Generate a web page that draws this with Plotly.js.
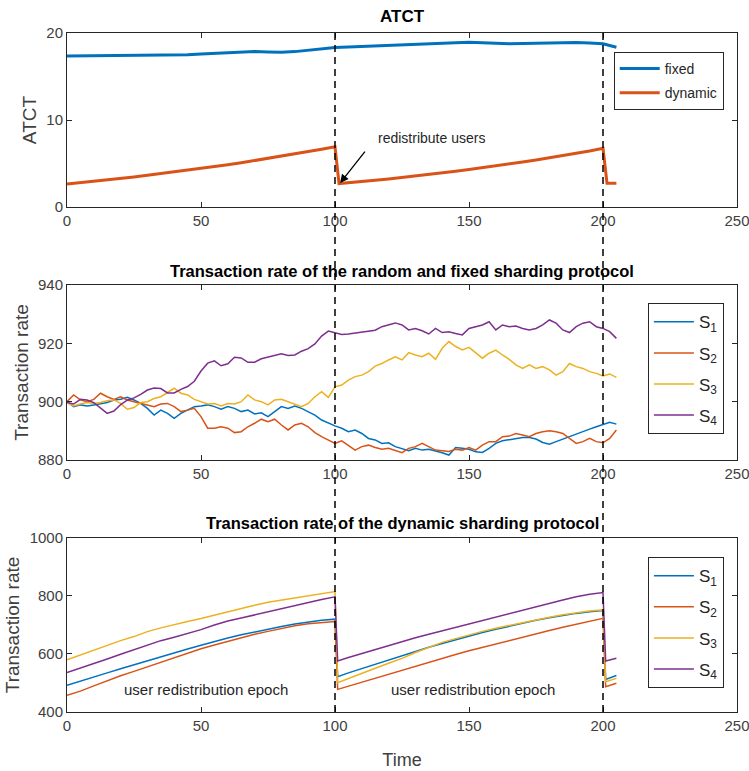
<!DOCTYPE html>
<html>
<head>
<meta charset="utf-8">
<script src="https://cdn.plot.ly/plotly-3.0.1.min.js"></script>
<style>html,body{margin:0;padding:0;background:#fff;}#chart{width:749px;height:771px;}</style>
</head>
<body>
<div id="chart"></div>
<script>
// ---------- Top panel: ATCT ----------
const xFixed = [0,5,10,15,20,25,30,35,40,45,50,55,60,65,70,75,80,85,90,95,100,105,110,115,120,125,130,135,140,145,150,155,160,165,170,175,180,185,190,195,200,205];
const atctFixed = [17.37,17.38,17.40,17.42,17.45,17.48,17.47,17.45,17.44,17.50,17.58,17.65,17.72,17.80,17.86,17.83,17.80,17.86,18.02,18.20,18.32,18.40,18.47,18.52,18.58,18.62,18.70,18.78,18.84,18.88,18.94,18.88,18.80,18.76,18.80,18.84,18.82,18.86,18.90,18.85,18.76,18.37];
const xDyn = [0,5,10,15,20,25,30,35,40,45,50,55,60,65,70,75,80,85,90,95,100,101.5,105,110,115,120,125,130,135,140,145,150,155,160,165,170,175,180,185,190,195,200,201.5,205];
const atctDynamic = [2.65,2.80,2.95,3.12,3.29,3.46,3.64,3.83,4.02,4.22,4.42,4.64,4.86,5.09,5.33,5.58,5.84,6.10,6.37,6.65,6.93,2.70,2.78,2.92,3.07,3.23,3.39,3.56,3.74,3.92,4.11,4.31,4.51,4.72,4.94,5.17,5.41,5.65,5.90,6.16,6.45,6.75,2.72,2.73];

// ---------- Middle panel: random / fixed sharding ----------
const xRand = [0,2.5,5,7.5,10,12.5,15,17.5,20,22.5,25,27.5,30,32.5,35,37.5,40,42.5,45,47.5,50,52.5,55,57.5,60,62.5,65,67.5,70,72.5,75,77.5,80,82.5,85,87.5,90,92.5,95,97.5,100,102.5,105,107.5,110,112.5,115,117.5,120,122.5,125,127.5,130,132.5,135,137.5,140,142.5,145,147.5,150,152.5,155,157.5,160,162.5,165,167.5,170,172.5,175,177.5,180,182.5,185,187.5,190,192.5,195,197.5,200,202.5,205];
const randS1 = [900,898.3,898.9,898.5,898.9,899.4,899.7,900.6,900.8,901.5,900.6,899.4,897.7,895.4,897.1,896,894.3,896,897.1,898.3,898.5,898.9,898.3,897.4,898.3,897.7,896.6,897.1,895.8,896.2,894.9,896.6,898.3,897.7,898.5,897.7,896.6,895.4,893.7,892.6,891.7,890.9,889.7,890.3,889.1,887.4,886.9,
  885.7,885.9,884.6,884,883.2,884,883.4,883.7,883.2,882.5,881.7,884.3,884,883.7,882.8,882.6,884,885.7,886.6,886.9,887.2,887.7,887.7,887.2,886,885.4,886.3,887.2,888,889,889.8,890.6,891.4,892.1,892.9,892.3];
const randS2 = [900,902.3,900.6,900,900.8,902.9,901.7,900.8,901.7,900.6,900,899.4,898.9,898.3,899.2,899.4,898.3,896.6,897.1,897.7,894.9,890.9,890.9,891.4,890.9,889.4,889.7,891.4,892.6,894,893.1,894,892,890.3,892,892.6,891.4,889.4,888,886.9,885.7,886.6,885.1,883.4,884.6,885.1,884.3,
  883.7,884,883.2,882.5,884,884.6,885.7,884.6,883.4,883.2,882.9,883.7,883.4,884.3,883.4,885.1,886.3,886.3,888,888.2,889.1,888.6,888,889.1,889.7,890,889.7,889.1,887.4,885.7,886.3,887.4,886.3,885.9,887.4,890.3];
const randS3 = [899.7,898.5,899.2,899.7,899.4,899.7,900.3,900.6,899.4,897.4,898,899.7,900,901.1,901.7,903.1,904.6,902.9,902.3,900.8,900,899.2,899.4,898.5,899.4,899.2,900,902.3,900.6,900,898.9,900.6,900.8,900,899.2,898.3,899.4,901.7,903.4,901.5,905.1,905.7,907.4,908.6,909.1,910.3,912.2,
  913.1,914.3,915.4,914.3,916.8,916,915.4,916.6,914.5,918.3,920.6,918.9,917.7,918.6,916.6,914.9,916.6,917.7,916,914.5,912.6,911.4,912.6,911.4,912,910.9,909.1,910.3,913.1,912,911.4,910.3,909.7,908.8,909.5,908.3];
const randS4 = [899.7,899.2,900.8,900.6,899.7,897.7,896,896.8,899,900.5,901.3,902.5,904,904.7,904.5,903,903,904.2,905.2,907,910.5,913.2,914,912.3,913,915.2,915,913.5,913.5,914.7,915.2,915.7,916.4,915.8,916,917.3,918.2,919.8,922.5,924.2,923.5,923,923.2,923.5,923.8,924.2,924.5,
  925.7,926.3,927,926.3,924.6,925.1,924.3,923.2,925.1,923.7,924,923.4,922.9,925.1,925.7,926.3,927.4,924.6,926.3,925.7,925.9,925.1,924.6,925.1,926.3,928,926.9,924.6,923.7,925.7,926.9,927.4,925.7,925.1,924,921.7];

// ---------- Bottom panel: dynamic sharding ----------
const xDynRate = [0,5,10,15,20,25,30,35,40,45,50,55,60,65,70,75,80,85,90,95,100,101,105,110,115,120,125,130,135,140,145,150,155,160,165,170,175,180,185,190,195,200,201,205];
const dynS1 = [492,507,521,535,549,563,577,590,603,617,630,643,655,666,676,686,695,703,710,716,720,522,535,550,565,580,595,609,623,636,649,662,674,685,696,706,716,725,733,740,746,750,512,526];
const dynS2 = [458,472,490,508,525,540,556,571,587,603,618,631,644,656,668,678,688,697,704,709,712,478,489,503,517,531,545,559,572,585,598,611,623,635,647,659,670,681,692,703,713,723,487,499];
const dynS3 = [580,597,613,630,646,660,677,690,702,712,722,734,746,758,768,778,785,792,800,808,815,501,516,534,551,568,585,605,622,640,653,666,678,689,699,709,718,727,735,742,748,752,504,516];
const dynS4 = [536,551,567,583,599,614,630,646,658,670,684,700,714,724,735,746,757,768,778,788,797,576,588,602,616,630,643,656,668,680,692,704,716,728,740,752,763,775,786,797,806,812,576,585];

const seriesNames = ['S<sub>1</sub>','S<sub>2</sub>','S<sub>3</sub>','S<sub>4</sub>'];
const epochMarks = [100, 200];
const xTicks = [0,50,100,150,200,250];

const C = {blue:'#0072BD', red:'#D95319', yellow:'#EDB120', purple:'#7E2F8E'};
const cols = [C.blue, C.red, C.yellow, C.purple];
const FONT = 'Liberation Sans, Arial, Helvetica, sans-serif';

const traces = [];
traces.push({x:xFixed, y:atctFixed, name:'fixed', type:'scatter', mode:'lines', line:{color:C.blue, width:3}, xaxis:'x', yaxis:'y', legend:'legend', legendgroup:'a1'});
traces.push({x:xDyn, y:atctDynamic, name:'dynamic', type:'scatter', mode:'lines', line:{color:C.red, width:3}, xaxis:'x', yaxis:'y', legend:'legend', legendgroup:'a2'});
const rand = [randS1, randS2, randS3, randS4];
rand.forEach((s,i)=>traces.push({x:xRand, y:s, name:seriesNames[i], type:'scatter', mode:'lines', line:{color:cols[i], width:1.5}, xaxis:'x2', yaxis:'y2', legend:'legend2', legendgroup:'r'+i}));
const dyn = [dynS1, dynS2, dynS3, dynS4];
dyn.forEach((s,i)=>traces.push({x:xDynRate, y:s, name:seriesNames[i], type:'scatter', mode:'lines', line:{color:cols[i], width:1.5}, xaxis:'x3', yaxis:'y3', legend:'legend3', legendgroup:'d'+i}));

function xa(anchor, extra){
  return Object.assign({anchor:anchor, domain:[0,1], range:[0,250], tickvals:xTicks, ticks:'inside', ticklen:5, tickcolor:'#262626',
    showline:true, linecolor:'#262626', linewidth:1, mirror:'ticks', showgrid:false, zeroline:false, ticklabeloverflow:'allow',
    tickfont:{family:FONT, size:15, color:'#404040'}}, extra||{});
}
function ya(anchor, dom, rng, tv, title, extra){
  return Object.assign({anchor:anchor, domain:dom, range:rng, tickvals:tv, ticks:'inside', ticklen:5, tickcolor:'#262626',
    showline:true, linecolor:'#262626', linewidth:1, mirror:'ticks', showgrid:false, zeroline:false,
    tickfont:{family:FONT, size:15, color:'#404040'},
    title:{text:title, font:{family:FONT, size:19, color:'#404040'}, standoff:4}}, extra||{});
}
const legBase = {bgcolor:'#fff', bordercolor:'#262626', borderwidth:1, xanchor:'left', yanchor:'top', itemwidth:40};

const layout = {
  width:749, height:771,
  margin:{l:67, r:12, t:33, b:59},
  paper_bgcolor:'#fff', plot_bgcolor:'#fff',
  font:{family:FONT, color:'#262626'},
  xaxis: xa('y'),
  yaxis: ya('x', [0.7437,1], [0,20], [0,10,20], 'ATCT'),
  xaxis2: xa('y2'),
  yaxis2: ya('x2', [0.3711,0.6289], [880,940], [880,900,920,940], 'Transaction rate'),
  xaxis3: xa('y3', {title:{text:'Time', font:{family:FONT, size:18, color:'#404040'}, standoff:20}}),
  yaxis3: ya('x3', [0,0.2563], [400,1000], [400,600,800,1000], 'Transaction rate'),
  legend: Object.assign({}, legBase, {x:0.816, y:0.972, tracegroupgap:3, font:{family:FONT, size:14, color:'#262626'}}),
  legend2: Object.assign({}, legBase, {x:0.867, y:0.602, tracegroupgap:6, font:{family:FONT, size:17, color:'#262626'}}),
  legend3: Object.assign({}, legBase, {x:0.867, y:0.228, tracegroupgap:6, font:{family:FONT, size:17, color:'#262626'}}),
  shapes: epochMarks.map(v=>({type:'line', xref:'x', yref:'paper', x0:v, x1:v, y0:0, y1:1, layer:'above',
    line:{color:'#000', width:1.5, dash:'7px,5px'}})),
  annotations:[
    {text:'<b>ATCT</b>', xref:'paper', yref:'paper', x:0.5, y:1.0236, showarrow:false, xanchor:'center', yanchor:'middle', font:{family:FONT, size:17, color:'#000'}},
    {text:'<b>Transaction rate of the random and fixed sharding protocol</b>', xref:'paper', yref:'paper', x:0.5, y:0.6495, showarrow:false, xanchor:'center', yanchor:'middle', font:{family:FONT, size:16.5, color:'#000'}},
    {text:'<b>Transaction rate of the dynamic sharding protocol</b>', xref:'paper', yref:'paper', x:0.5, y:0.2784, showarrow:false, xanchor:'center', yanchor:'middle', font:{family:FONT, size:16.5, color:'#000'}},
    {text:'redistribute users', xref:'x', yref:'y', x:135.9, y:7.93, showarrow:false, font:{family:FONT, size:14, color:'#262626'}},
    {text:'', xref:'x', yref:'y', x:101.9, y:2.76, axref:'x', ayref:'y', ax:111.6, ay:6.55, showarrow:true, arrowhead:2, arrowsize:1.3, arrowwidth:1.3, arrowcolor:'#000'},
    {text:'user redistribution epoch', xref:'x3', yref:'y3', x:51.8, y:479, showarrow:false, font:{family:FONT, size:15, color:'#262626'}},
    {text:'user redistribution epoch', xref:'x3', yref:'y3', x:151.6, y:479, showarrow:false, font:{family:FONT, size:15, color:'#262626'}}
  ]
};
Plotly.newPlot('chart', traces, layout, {displayModeBar:false, staticPlot:true});
</script>
</body>
</html>
